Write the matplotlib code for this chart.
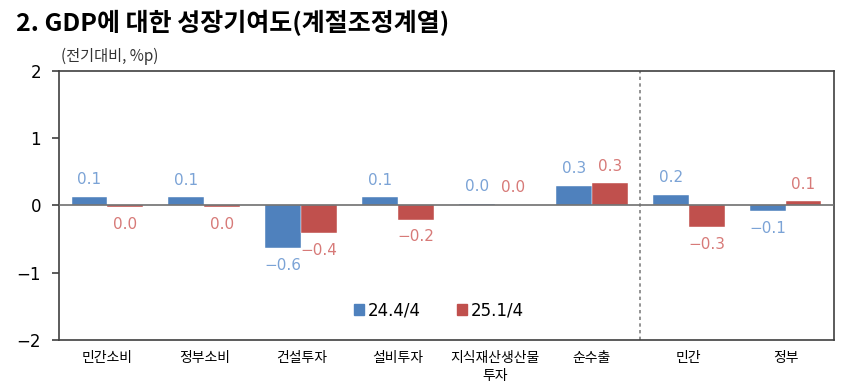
import numpy as np
import matplotlib.pyplot as plt
from matplotlib.patches import Patch

plt.rcParams['font.family'] = ['Noto Sans CJK KR', 'DejaVu Sans']

categories = ["민간소비", "정부소비", "건설투자", "설비투자", "지식재산생산물\n투자", "순수출", "민간", "정부"]
q_244 = [0.13, 0.12, -0.64, 0.12, 0.02, 0.29, 0.16, -0.09]
q_251 = [-0.03, -0.02, -0.41, -0.21, 0.01, 0.33, -0.32, 0.06]
series_names = ["24.4/4", "25.1/4"]

blue = "#4F81BD"
red = "#C0504D"
blue_txt = "#7BA3D6"
red_txt = "#D77A78"

fig = plt.figure(figsize=(8.67, 3.88), dpi=100)
ax = fig.add_axes([0.068, 0.124, 0.894, 0.693])

x = np.arange(len(categories))
w = 0.37
ax.bar(x - w/2, q_244, w, color=blue, edgecolor="white", linewidth=0.3, zorder=2)
ax.bar(x + w/2, q_251, w, color=red, edgecolor="white", linewidth=0.3, zorder=2)

def put_labels(xs, vals, col):
    for xi, v in zip(xs, vals):
        txt = f"{abs(v):.1f}"
        if round(v, 1) < 0:
            txt = "\u2212" + txt
        if v >= 0:
            ax.annotate(txt, (xi, v), xytext=(0, 7), textcoords="offset points",
                        ha="center", va="bottom", color=col, fontsize=11, family="DejaVu Sans")
        else:
            ax.annotate(txt, (xi, v), xytext=(0, -7), textcoords="offset points",
                        ha="center", va="top", color=col, fontsize=11, family="DejaVu Sans")

put_labels(x - w/2, q_244, blue_txt)
put_labels(x + w/2, q_251, red_txt)

ax.axhline(0, color="#707070", linewidth=1.2, zorder=3)
ax.axvline(5.5, color="#808080", linestyle=(0, (2, 2)), linewidth=1.2)

ax.set_xlim(-0.5, 7.5)
ax.set_ylim(-2, 2)
ax.set_yticks([-2, -1, 0, 1, 2])
ax.set_yticklabels(["\u22122", "\u22121", "0", "1", "2"], fontsize=12, family="DejaVu Sans")
ax.set_xticks(x)
ax.set_xticklabels(categories, fontsize=10, linespacing=1.4)
ax.tick_params(axis="x", length=0, pad=8)
ax.tick_params(axis="y", length=5, width=1.2, color="#404040", pad=8)
for s in ax.spines.values():
    s.set_color("#404040")
    s.set_linewidth(1.2)

handles = [Patch(color=blue), Patch(color=red)]
ax.legend(handles, series_names, loc="lower center", bbox_to_anchor=(0.49, 0.02), ncol=2,
          frameon=False, handlelength=0.6, handleheight=0.6, handletextpad=0.2,
          columnspacing=2.2, prop={"family": "DejaVu Sans", "size": 12})

fig.text(0.018, 0.94, "2. GDP에 대한 성장기여도(계절조정계열)", fontsize=18, fontweight="bold", va="center")
fig.text(0.070, 0.855, "(전기대비, %p)", fontsize=11, color="#333333", va="center")

fig.savefig("out.png", dpi=100)
